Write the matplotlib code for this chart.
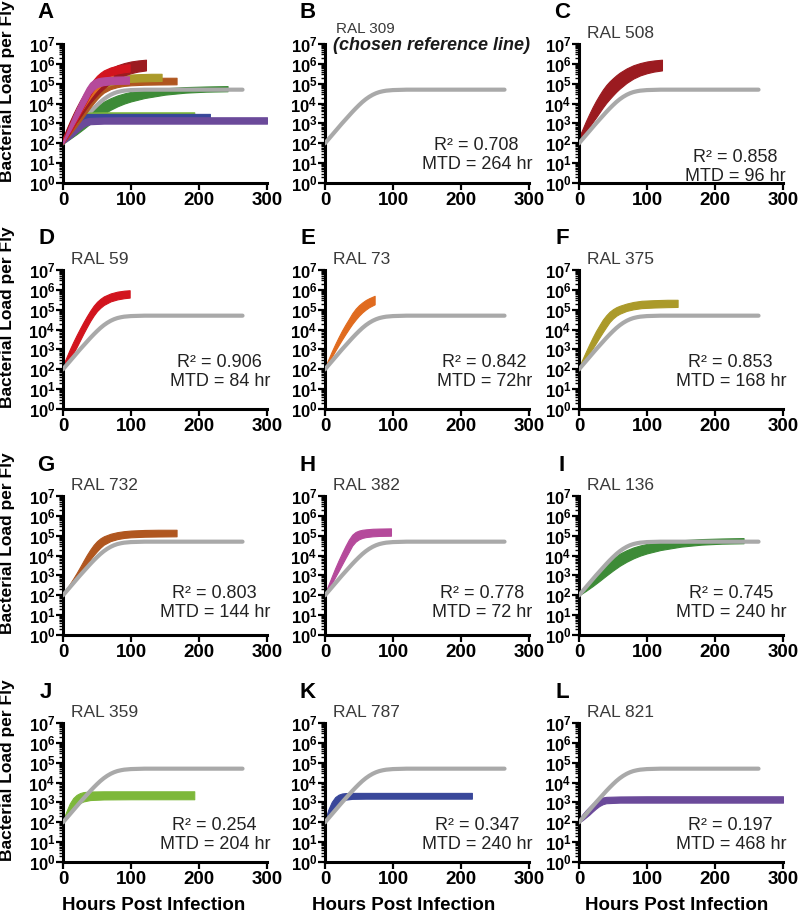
import matplotlib
matplotlib.use('Agg')
import matplotlib.pyplot as plt
import numpy as np
from matplotlib.ticker import LogLocator, NullFormatter

plt.rcParams['font.family'] = ['Liberation Sans', 'DejaVu Sans']
plt.rcParams['mathtext.fontset'] = 'custom'
plt.rcParams['mathtext.rm'] = 'Liberation Sans'
plt.rcParams['mathtext.bf'] = 'Liberation Sans:bold'

# all loads are log10(bacteria per fly)

# reference line RAL 309
ref_hours = [0, 5, 10, 15, 20, 25, 30, 35, 40, 45, 50, 55, 60, 65, 70, 75, 80, 85, 90, 100, 110, 120, 264]
ref_log = [2.0, 2.2, 2.4, 2.6, 2.8, 3.0, 3.19, 3.38, 3.57, 3.75, 3.92, 4.08, 4.22, 4.34, 4.44,
           4.52, 4.58, 4.62, 4.65, 4.68, 4.69, 4.7, 4.7]

# RAL 508
ral508_hours = [0, 5, 10, 15, 20, 25, 30, 35, 40, 45, 50, 55, 60, 70, 80, 90, 100, 110, 122]
ral508_upper = [2.3, 2.7, 3.1, 3.47, 3.82, 4.14, 4.43, 4.7, 4.93, 5.12, 5.28, 5.43, 5.56, 5.77,
                5.93, 6.04, 6.12, 6.17, 6.21]
ral508_lower = [2.0, 2.27, 2.54, 2.8, 3.06, 3.3, 3.55, 3.8, 4.03, 4.23, 4.42, 4.6, 4.76, 5.04,
                5.26, 5.42, 5.53, 5.61, 5.67]

# RAL 59
ral59_hours = [0, 5, 10, 15, 20, 25, 30, 35, 40, 45, 50, 55, 60, 70, 80, 90, 98]
ral59_upper = [2.2, 2.6, 3.0, 3.37, 3.72, 4.05, 4.37, 4.67, 4.95, 5.2, 5.4, 5.55, 5.67, 5.82,
               5.91, 5.96, 5.98]
ral59_lower = [2.0, 2.25, 2.5, 2.8, 3.12, 3.46, 3.8, 4.12, 4.43, 4.7, 4.93, 5.1, 5.24, 5.42,
               5.52, 5.58, 5.61]

# RAL 73
ral73_hours = [0, 5, 10, 15, 20, 25, 30, 35, 40, 45, 50, 55, 60, 65, 73]
ral73_upper = [2.1, 2.5, 2.9, 3.27, 3.62, 3.95, 4.25, 4.53, 4.82, 5.05, 5.23, 5.37, 5.49, 5.58, 5.7]
ral73_lower = [2.0, 2.32, 2.63, 2.93, 3.22, 3.5, 3.77, 4.03, 4.28, 4.5, 4.7, 4.87, 5.01, 5.13, 5.27]

# RAL 375
ral375_hours = [0, 5, 10, 15, 20, 25, 30, 35, 40, 45, 50, 55, 60, 70, 80, 92, 110, 130, 145]
ral375_upper = [2.1, 2.5, 2.88, 3.25, 3.6, 3.93, 4.22, 4.5, 4.72, 4.9, 5.03, 5.13, 5.2, 5.31,
                5.39, 5.45, 5.48, 5.5, 5.5]
ral375_lower = [2.0, 2.27, 2.53, 2.8, 3.05, 3.32, 3.6, 3.87, 4.13, 4.38, 4.56, 4.7, 4.8, 4.94,
                5.02, 5.08, 5.11, 5.13, 5.14]

# RAL 732
ral732_hours = [0, 5, 10, 15, 20, 25, 30, 35, 40, 45, 50, 55, 60, 70, 80, 90, 100, 120, 140, 167]
ral732_upper = [2.05, 2.3, 2.57, 2.84, 3.12, 3.42, 3.73, 4.03, 4.3, 4.54, 4.73, 4.87, 4.97, 5.1,
                5.18, 5.23, 5.26, 5.29, 5.3, 5.3]
ral732_lower = [2.0, 2.2, 2.42, 2.64, 2.87, 3.1, 3.33, 3.57, 3.8, 4.02, 4.22, 4.4, 4.55, 4.73,
                4.83, 4.89, 4.92, 4.95, 4.96, 4.97]

# RAL 382
ral382_hours = [0, 5, 10, 15, 20, 25, 30, 35, 40, 45, 50, 55, 60, 70, 80, 97]
ral382_upper = [2.1, 2.52, 2.95, 3.37, 3.76, 4.13, 4.48, 4.8, 5.05, 5.19, 5.26, 5.3, 5.32, 5.35,
                5.36, 5.37]
ral382_lower = [2.0, 2.3, 2.6, 2.92, 3.23, 3.55, 3.87, 4.18, 4.5, 4.7, 4.82, 4.89, 4.93, 4.97,
                4.99, 5.0]

# RAL 136
ral136_hours = [0, 10, 20, 30, 40, 50, 60, 70, 80, 90, 100, 120, 150, 180, 210, 242]
ral136_upper = [2.05, 2.42, 2.82, 3.2, 3.55, 3.85, 4.1, 4.27, 4.41, 4.51, 4.59, 4.69, 4.77, 4.83,
                4.86, 4.88]
ral136_lower = [2.0, 2.22, 2.46, 2.72, 2.99, 3.25, 3.49, 3.69, 3.86, 4.0, 4.11, 4.28, 4.45, 4.55,
                4.6, 4.62]

# RAL 359
ral359_hours = [0, 5, 10, 15, 20, 25, 30, 40, 60, 100, 150, 193]
ral359_upper = [2.1, 2.55, 2.95, 3.22, 3.38, 3.47, 3.52, 3.55, 3.56, 3.56, 3.56, 3.56]
ral359_lower = [2.0, 2.25, 2.5, 2.7, 2.85, 2.97, 3.05, 3.12, 3.15, 3.16, 3.16, 3.16]

# RAL 787
ral787_hours = [0, 5, 10, 15, 20, 25, 30, 40, 60, 100, 150, 216]
ral787_upper = [2.1, 2.65, 3.03, 3.27, 3.39, 3.45, 3.47, 3.48, 3.48, 3.48, 3.48, 3.48]
ral787_lower = [2.0, 2.3, 2.56, 2.78, 2.95, 3.07, 3.14, 3.18, 3.19, 3.19, 3.19, 3.19]

# RAL 821
ral821_hours = [0, 5, 10, 15, 20, 25, 30, 35, 40, 60, 100, 200, 300]
ral821_upper = [2.15, 2.4, 2.6, 2.78, 2.95, 3.09, 3.19, 3.25, 3.28, 3.3, 3.31, 3.31, 3.31]
ral821_lower = [2.0, 2.1, 2.24, 2.38, 2.54, 2.69, 2.82, 2.91, 2.96, 2.99, 2.99, 2.99, 2.99]

r_squared = {'508': '0.858', '59': '0.906', '73': '0.842', '375': '0.853',
             '732': '0.803', '382': '0.778', '136': '0.745', '359': '0.254',
             '787': '0.347', '821': '0.197'}
mtd = {'508': '96 hr', '59': '84 hr', '73': '72hr', '375': '168 hr',
       '732': '144 hr', '382': '72 hr', '136': '240 hr', '359': '204 hr',
       '787': '240 hr', '821': '468 hr'}

strains = {
    '508': (ral508_hours, ral508_upper, ral508_lower, '#9b1b20'),
    '59': (ral59_hours, ral59_upper, ral59_lower, '#d2141e'),
    '73': (ral73_hours, ral73_upper, ral73_lower, '#e06b1f'),
    '375': (ral375_hours, ral375_upper, ral375_lower, '#ab9a2a'),
    '732': (ral732_hours, ral732_upper, ral732_lower, '#b0561f'),
    '382': (ral382_hours, ral382_upper, ral382_lower, '#b54a9b'),
    '136': (ral136_hours, ral136_upper, ral136_lower, '#3d8b37'),
    '359': (ral359_hours, ral359_upper, ral359_lower, '#7db83a'),
    '787': (ral787_hours, ral787_upper, ral787_lower, '#39479a'),
    '821': (ral821_hours, ral821_upper, ral821_lower, '#6b4a9a'),
}
REF_COLOR = '#a9a9a9'

# panel letter, strain, column, row, text offset above x-axis (px)
panels = [('A', None, 0, 0, 0), ('B', '309', 1, 0, 28), ('C', '508', 2, 0, 16),
          ('D', '59', 0, 1, 37), ('E', '73', 1, 1, 37), ('F', '375', 2, 1, 37),
          ('G', '732', 0, 2, 32), ('H', '382', 1, 2, 32), ('I', '136', 2, 2, 32),
          ('J', '359', 0, 3, 27), ('K', '787', 1, 3, 27), ('L', '821', 2, 3, 27)]
overlay_order = ['136', 'ref', '359', '787', '821', '732', '375', '508', '73', '59', '382']

W, H = 798, 916
col_x0 = [63, 325, 579]
row_top = [44, 270, 496, 723]
AW, AH = 204, 139

fig = plt.figure(figsize=(W / 100, H / 100), dpi=100)


def style_axes(ax):
    ax.set_yscale('log')
    ax.set_ylim(1, 1e7)
    ax.set_xlim(0, 300)
    ax.spines['top'].set_visible(False)
    ax.spines['right'].set_visible(False)
    ax.spines['left'].set_linewidth(2.2)
    ax.spines['bottom'].set_linewidth(2.2)
    ax.set_yticks([10 ** i for i in range(8)])
    ax.set_yticklabels([r'$\mathbf{10^{%d}}$' % i for i in range(8)], fontsize=12)
    ax.yaxis.set_minor_locator(LogLocator(base=10, subs=np.arange(2, 10), numticks=20))
    ax.yaxis.set_minor_formatter(NullFormatter())
    ax.set_xticks([0, 100, 200, 300])
    ax.set_xticklabels(['0', '100', '200', '300'], fontsize=13.5, fontweight='bold')
    ax.tick_params(axis='y', which='major', length=5, width=1.6, pad=0.5)
    ax.tick_params(axis='y', which='minor', length=3, width=1.0)
    ax.tick_params(axis='x', which='major', length=5, width=1.6, pad=1.5)
    ax.patch.set_alpha(0)


def draw_band(ax, key, z):
    hrs, up, lo, col = strains[key]
    ax.fill_between(hrs, 10 ** np.array(lo), 10 ** np.array(up), color=col,
                    lw=0.8, edgecolor=col, zorder=z)


def draw_ref(ax, z):
    ax.plot(ref_hours, 10 ** np.array(ref_log), color=REF_COLOR, lw=3,
            solid_capstyle='round', zorder=z)


for letter, key, c, r, txt_off in panels:
    x0, top = col_x0[c], row_top[r]
    ax = fig.add_axes([x0 / W, 1 - (top + AH) / H, AW / W, AH / H])
    style_axes(ax)
    fig.text((x0 - 17) / W, 1 - (top - 31) / H, letter, fontsize=16,
             fontweight='bold', ha='center', va='center')
    if key is None:
        for i, k in enumerate(overlay_order):
            if k == 'ref':
                draw_ref(ax, 2 + i)
            else:
                draw_band(ax, k, 2 + i)
        continue
    if key == '309':
        draw_ref(ax, 3)
        fig.text((x0 + 11) / W, 1 - (top - 15) / H, 'RAL 309', fontsize=11,
                 color='#3a3a3a', ha='left', va='center')
        fig.text((x0 + 8) / W, 1 - (top + 1) / H, '(chosen reference line)',
                 fontsize=13, fontweight='bold', fontstyle='italic',
                 color='#1a1a1a', ha='left', va='center')
        stat = 'R\u00b2 = 0.708\nMTD = 264 hr'
    else:
        draw_band(ax, key, 2)
        draw_ref(ax, 3)
        fig.text((x0 + 8) / W, 1 - (top - 10.5) / H, 'RAL ' + key, fontsize=12.5,
                 color='#3a3a3a', ha='left', va='center')
        stat = 'R\u00b2 = %s\nMTD = %s' % (r_squared[key], mtd[key])
    fig.text((x0 + AW + 3) / W, 1 - (top + AH - txt_off) / H, stat, fontsize=13,
             color='#222222', ha='right', va='center', multialignment='center',
             linespacing=1.12)

# shared axis labels
for r in range(4):
    cy = row_top[r] + AH / 2 - 22
    fig.text(8 / W, 1 - cy / H, 'Bacterial Load per Fly', rotation=90,
             fontsize=12.5, fontweight='bold', ha='center', va='center')
for cx in [154, 404, 677]:
    fig.text(cx / W, 1 - 906 / H, 'Hours Post Infection', fontsize=13.5,
             fontweight='bold', ha='center', va='center')

fig.savefig('out.png', dpi=100)
